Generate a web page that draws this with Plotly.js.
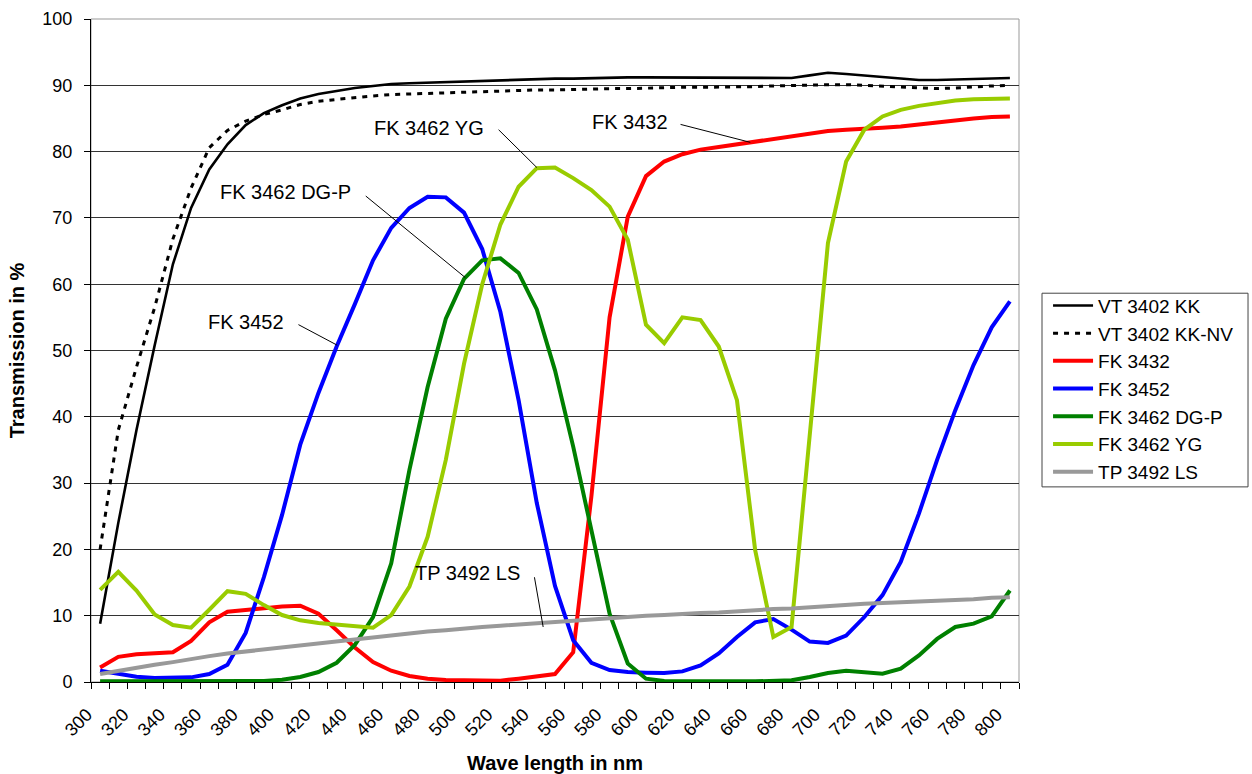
<!DOCTYPE html>
<html><head><meta charset="utf-8">
<script src="https://cdn.plot.ly/plotly-3.0.1.min.js"></script>
<style>html,body{margin:0;padding:0;background:#fff;} #chart{width:1252px;height:774px;}</style>
</head><body><div id="chart"></div>
<script>
const wavelength = [300,310,320,330,340,350,360,370,380,390,400,410,420,430,440,450,460,470,480,490,500,510,520,530,540,550,560,570,580,590,600,610,620,630,640,650,660,670,680,690,700,710,720,730,740,750,760,770,780,790,800];

const vt3402kk = [8.8,24,38,50.8,63,71.5,77.3,81.1,84.0,85.8,87.0,88.0,88.7,89.2,89.6,89.9,90.2,90.3,90.4,90.4,90.5,90.6,90.7,90.8,90.9,91.0,91.0,91.1,91.1,91.2,91.2,91.2,91.2,91.2,91.2,91.2,91.2,91.2,91.1,91.5,91.9,91.7,91.5,91.3,91.0,90.8,90.8,90.9,91.0,91.1,91.1];

const vt3402kkNV = [20,38,47.5,56.5,66.8,74.5,80.6,83.2,84.6,85.6,86.3,87.1,87.6,87.9,88.2,88.4,88.6,88.7,88.8,88.8,88.9,89.0,89.1,89.2,89.3,89.3,89.4,89.4,89.5,89.5,89.6,89.6,89.7,89.7,89.7,89.7,89.8,89.9,90.0,90.1,90.1,90.1,90.0,89.9,89.8,89.6,89.5,89.6,89.8,89.9,90.0];

const fk3432 = [2.2,3.8,4.2,4.3,4.5,6.2,9.0,10.6,10.9,11.1,11.4,11.5,10.3,7.8,5.2,3.0,1.7,0.9,0.5,0.3,0.25,0.2,0.2,0.5,0.9,1.2,4.5,28,55,70.2,76.3,78.5,79.6,80.3,80.7,81.1,81.4,81.8,82.2,82.7,83.1,83.3,83.4,83.6,83.8,84.1,84.4,84.8,85.0,85.2,85.3];

const fk3452 = [1.7,1.3,0.8,0.6,0.6,0.7,1.2,2.6,7.4,15.8,25.2,35.8,43.6,50.6,57,63.6,68.5,71.5,73.2,73.1,70.8,65.3,55.8,42.5,27,14.5,6.3,2.9,1.8,1.5,1.4,1.35,1.6,2.5,4.3,6.8,9.0,9.5,7.9,6.1,5.9,7.0,9.8,13.1,18.1,25.4,33.5,41.0,47.8,53.5,57.4];

const fk3462DGP = [0.1,0.1,0.1,0.1,0.1,0.1,0.1,0.1,0.1,0.15,0.35,0.75,1.5,2.9,5.6,9.8,17.9,32,44.5,54.8,60.8,63.6,63.9,61.7,56.2,47,35.5,22.9,10.3,2.8,0.5,0.15,0.1,0.1,0.1,0.1,0.1,0.1,0.25,0.75,1.36,1.7,1.4,1.25,2.0,4.0,6.5,8.3,8.8,9.9,13.8];

const fk3462YG = [13.9,16.6,13.8,10.2,8.6,8.2,10.9,13.7,13.3,11.6,10.1,9.3,8.9,8.7,8.4,8.2,10.1,14.4,21.9,33.5,48,60,69,74.7,77.5,77.6,76.0,74.2,71.7,66.7,53.9,51.1,55,54.6,50.6,42.5,19.9,6.8,8.3,37,66.2,78.5,83.3,85.3,86.3,86.9,87.3,87.7,87.9,88.0,88.0];

const tp3492LS = [1.2,1.7,2.2,2.6,3.0,3.5,3.9,4.3,4.6,4.9,5.2,5.5,5.8,6.1,6.4,6.8,7.0,7.3,7.6,7.8,8.1,8.3,8.5,8.7,8.9,9.1,9.3,9.5,9.6,9.8,10.0,10.1,10.3,10.4,10.5,10.7,10.8,11.0,11.1,11.3,11.5,11.6,11.8,11.9,12.0,12.1,12.3,12.4,12.5,12.7,12.8];

const xTickLabels = [300,320,340,360,380,400,420,440,460,480,500,520,540,560,580,600,620,640,660,680,700,720,740,760,780,800];
const yTickLabels = [0,10,20,30,40,50,60,70,80,90,100];

const seriesNames = ['VT 3402 KK','VT 3402 KK-NV','FK 3432','FK 3452','FK 3462 DG-P','FK 3462 YG','TP 3492 LS'];
const seriesData = [vt3402kk, vt3402kkNV, fk3432, fk3452, fk3462DGP, fk3462YG, tp3492LS];
const seriesLines = [
  {color:'#000000', width:2.6},
  {color:'#000000', width:3, dash:'5px,6px'},
  {color:'#FF0000', width:4},
  {color:'#0000FF', width:4},
  {color:'#008000', width:4},
  {color:'#99CC00', width:4},
  {color:'#999999', width:4}
];

const traces = seriesNames.map((n,i) => ({
  type:'scatter', mode:'lines', name:n, x: wavelength, y: seriesData[i],
  line: seriesLines[i], hoverinfo:'x+y+name'
}));

const FONT = '"Liberation Sans", Arial, Helvetica, sans-serif';

const labels = [
  {text:'FK 3462 YG', tx:481, ty:83.6, x0:519, y0:83.3, x1:540, y1:77.6},
  {text:'FK 3462 DG-P', tx:402, ty:73.9, x0:446, y0:73.3, x1:500.7, y1:61.0},
  {text:'FK 3452', tx:380, ty:54.3, x0:409, y0:53.9, x1:430.3, y1:50.8},
  {text:'FK 3432', tx:591, ty:84.5, x0:619, y0:84.1, x1:657.3, y1:81.4},
  {text:'TP 3492 LS', tx:502, ty:16.5, x0:538.7, y0:15.8, x1:543.5, y1:8.3}
];

const layout = {
  width:1252, height:774,
  margin:{l:91, r:233, t:19, b:92, pad:0},
  paper_bgcolor:'#ffffff', plot_bgcolor:'#ffffff',
  font:{family:FONT, size:18, color:'#000'},
  showlegend:true,
  xaxis:{
    range:[295,805], tickmode:'array', tickvals:xTickLabels, ticktext:xTickLabels.map(String),
    tickangle:-45, ticks:'', showgrid:false, zeroline:false,
    showline:true, linecolor:'#000', linewidth:1,
    tickfont:{family:FONT, size:18, color:'#000'},
    ticklabelshift:-13, ticklabelstandoff:14,
    minor:{tickmode:'linear', tick0:295, dtick:10, ticks:'outside', ticklen:6, tickwidth:1, tickcolor:'#000', showgrid:false},
    title:{text:'Wave length in nm', font:{family:FONT, size:20, weight:'bold', color:'#000'}, standoff:16}
  },
  yaxis:{
    range:[0,100], tickmode:'array', tickvals:yTickLabels, ticks:'outside', ticklen:6, tickcolor:'#000',
    showgrid:true, gridcolor:'#333', gridwidth:1, zeroline:false,
    showline:true, linecolor:'#000', linewidth:1,
    tickfont:{family:FONT, size:18, color:'#000'},
    ticklabelstandoff:8,
    title:{text:'Transmission in %', font:{family:FONT, size:20, weight:'bold', color:'#000'}, standoff:12}
  },
  legend:{x:1.0313, xanchor:'left', y:0.5964, yanchor:'top', borderwidth:0, bgcolor:'rgba(0,0,0,0)',
    font:{family:FONT, size:19, color:'#000'}, tracegroupgap:0, itemwidth:40},
  shapes:[
    {type:'rect', xref:'paper', yref:'paper', x0:0, x1:1, y0:0, y1:1, line:{color:'#999', width:1}, layer:'below'},
    {type:'rect', xref:'paper', yref:'paper', x0:1.0248, x1:1.2468, y0:0.2943, y1:0.5864, line:{color:'#444', width:1}, fillcolor:'#fff', layer:'below'}
  ].concat(labels.map(l => ({type:'line', xref:'x', yref:'y', x0:l.x0, y0:l.y0, x1:l.x1, y1:l.y1, line:{color:'#000', width:1}}))),
  annotations: labels.map(l => ({text:l.text, x:l.tx, y:l.ty, xref:'x', yref:'y', showarrow:false, font:{family:FONT, size:20, color:'#000'}}))
};

Plotly.newPlot('chart', traces, layout, {displayModeBar:false, staticPlot:true});
</script>
</body></html>
